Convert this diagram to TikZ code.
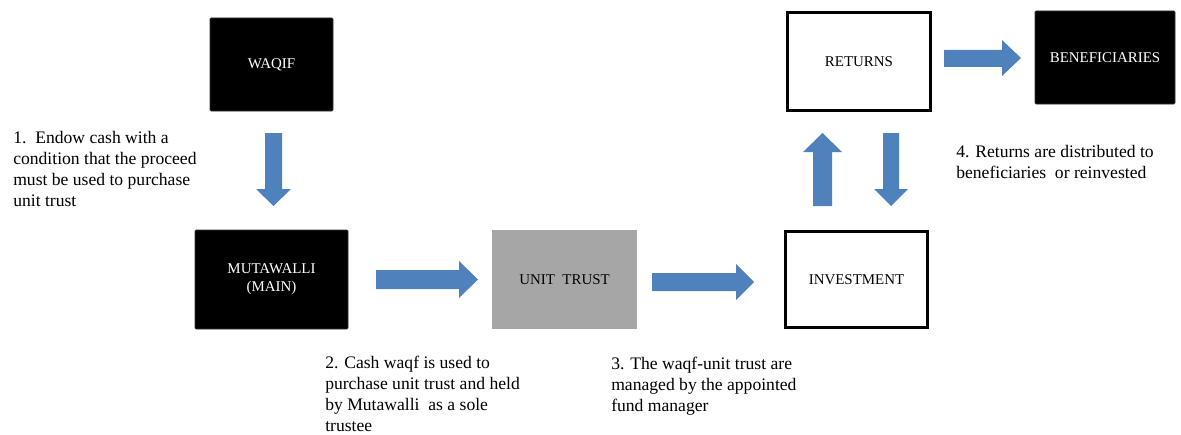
\documentclass[tikz,border=0pt]{standalone}
\usepackage{fontspec}
\setmainfont{Liberation Serif}
\newdimen\pxu
\pxu=0.75pt
\begin{document}
\begin{tikzpicture}[x=\pxu,y=-\pxu,
  darkbox/.style={draw=black!80,fill=black,text=white,rounded corners=0.8pt,
    font=\fontsize{11.2}{13.5}\selectfont,align=center,inner sep=0pt},
  greybox/.style={fill={rgb,255:red,166;green,166;blue,166},text=black,
    font=\fontsize{11.2}{13.5}\selectfont,align=center,inner sep=0pt},
  whitebox/.style={draw=black,line width=1.6pt,fill=white,text=black,
    font=\fontsize{11.2}{13.5}\selectfont,align=center,inner sep=0pt},
  note/.style={font=\fontsize{13.2}{15.75}\selectfont,align=left,inner sep=0pt,anchor=base west},
  flow/.style={fill={rgb,255:red,79;green,129;blue,189},draw=none}]
\useasboundingbox (0,0) rectangle (1181,435);

% boxes
\node[darkbox,minimum width=123\pxu,minimum height=93\pxu] (waqif) at (271.5,64.5) {WAQIF};
\node[darkbox,minimum width=153\pxu,minimum height=99\pxu] (mutawalli) at (271.5,279.5) {MUTAWALLI\\(MAIN)};
\node[greybox,minimum width=145\pxu,minimum height=99\pxu] (unit) at (564.5,279.5) {UNIT~ TRUST};
\node[whitebox,minimum width=142\pxu,minimum height=96\pxu] (invest) at (856.5,279.5) {INVESTMENT};
\node[whitebox,minimum width=143\pxu,minimum height=98\pxu] (returns) at (859,61.5) {RETURNS};
\node[darkbox,minimum width=140\pxu,minimum height=93\pxu] (benef) at (1105,57.5) {BENEFICIARIES};

% block arrows
\path[flow] (265,133) -- (282,133) -- (282,189) -- (291,189) -- (273.5,206) -- (256,189) -- (265,189) -- cycle;
\path[flow] (376,270) -- (459,270) -- (459,261) -- (478,279.5) -- (459,298) -- (459,289) -- (376,289) -- cycle;
\path[flow] (652,273) -- (736,273) -- (736,264) -- (754,282) -- (736,300) -- (736,291) -- (652,291) -- cycle;
\path[flow] (813,206) -- (813,152) -- (803,152) -- (822.5,133) -- (842,152) -- (832,152) -- (832,206) -- cycle;
\path[flow] (883,133) -- (899,133) -- (899,189) -- (908,189) -- (891,206) -- (874,189) -- (883,189) -- cycle;
\path[flow] (944,50) -- (1002,50) -- (1002,40) -- (1021,58) -- (1002,76) -- (1002,67) -- (944,67) -- cycle;

% annotations (anchored at the baseline of their last line)
\node[note] (n1) at (13,206) {1.\ \ Endow cash with a\\condition that the proceed\\must be used to purchase\\unit trust};
\node[note] (n2) at (325,431) {2. Cash waqf is used to\\purchase unit trust and held\\by Mutawalli\ \ as a sole\\trustee};
\node[note] (n3) at (611,411) {3. The waqf-unit trust are\\managed by the appointed\\fund manager};
\node[note] (n4) at (956,178) {4. Returns are distributed to\\beneficiaries\ \ or reinvested};
\end{tikzpicture}
\end{document}
